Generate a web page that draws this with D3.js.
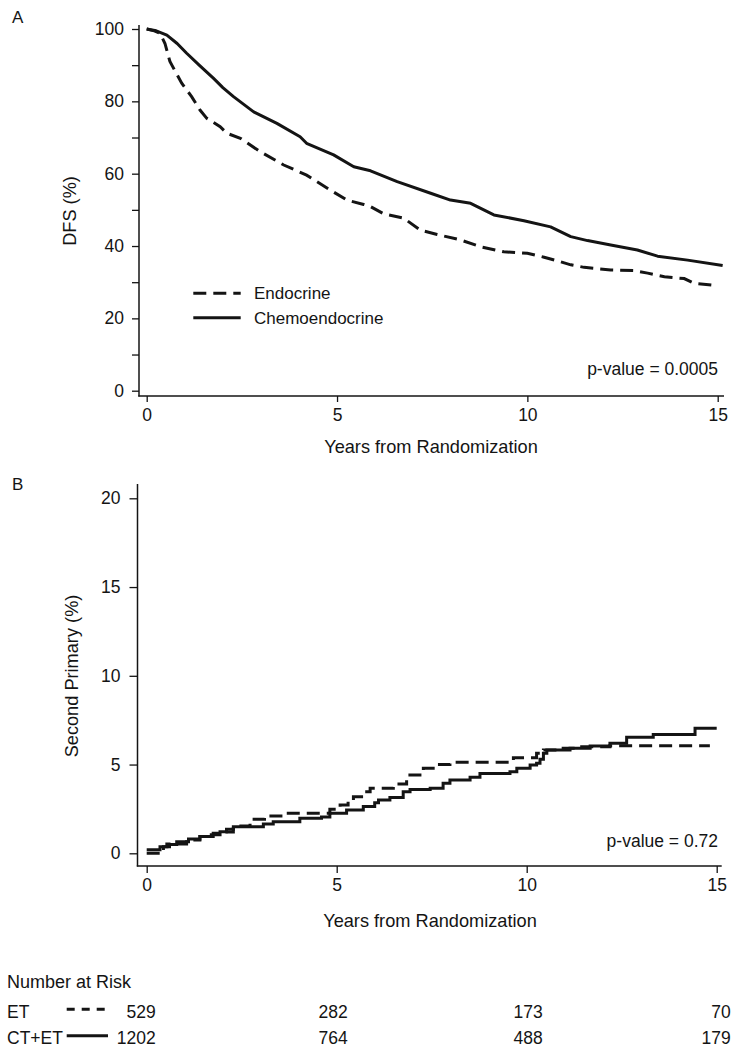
<!DOCTYPE html>
<html>
<head>
<meta charset="utf-8">
<script src="https://cdn.jsdelivr.net/npm/d3@7"></script>
<style>
  html, body { margin: 0; padding: 0; background: #fff; }
  svg { display: block; font-family: "Liberation Sans", Arial, Helvetica, sans-serif; }
</style>
</head>
<body>
<script>
// ---------- DATA ----------
// Panel A: DFS (%)
const dfsEndocrineT = [0,0.2,0.35,0.48,0.61,0.92,1.18,1.4,1.58,1.93,2.1,2.46,2.98,3.6,4.2,4.82,5.26,5.7,5.88,6.23,6.75,7.19,7.63,8.24,8.77,9.38,10.0,10.44,10.79,11.14,11.49,12.19,12.8,13.16,13.6,14.12,14.38,14.95];
const dfsEndocrineV = [100,99.5,98.8,96,91,85,81.3,77.6,75.3,73.0,71.2,69.8,66.1,62.4,59.6,55.5,52.7,51.5,50.9,48.9,47.7,44.4,43.2,41.7,39.8,38.4,38.0,36.9,35.9,34.8,34.1,33.4,33.2,32.5,31.5,31.0,29.7,29.1];
const dfsChemoT = [0,0.25,0.53,0.8,1.05,1.4,1.75,2.0,2.28,2.81,3.42,4.03,4.2,4.91,5.44,5.88,6.58,7.46,7.98,8.51,9.12,9.91,10.61,11.14,11.58,12.19,12.89,13.42,14.21,15.13];
const dfsChemoV = [100,99.5,98.3,96,93.3,89.8,86.4,83.8,81.3,77.1,73.9,70.2,68.4,65.2,61.9,60.8,57.8,54.6,52.7,51.8,48.6,47.0,45.3,42.6,41.5,40.3,38.9,37.2,36.1,34.6];

// Panel B: Second Primary (%) step points
const spEtT = [0,0.44,0.53,1.05,1.4,1.75,2.0,2.28,2.72,3.1,3.68,4.82,5.09,5.3,5.44,5.79,5.88,6.49,6.84,7.28,7.6,7.98,9.65,10.26,10.44,10.96,11.32,12.19,14.82];
const spEtV = [0,0.37,0.52,0.75,0.94,1.13,1.2,1.54,1.92,2.1,2.25,2.48,2.72,2.95,3.19,3.47,3.66,3.9,4.41,4.79,5.0,5.13,5.39,5.63,5.82,5.92,6.0,6.06,6.06];
const spCtEtT = [0,0.35,0.6,0.79,1.1,1.4,1.7,1.93,2.1,2.28,3.07,3.33,4.03,4.6,4.82,5.26,5.7,6.0,6.1,6.4,6.75,6.93,7.46,7.8,7.98,8.51,8.77,9.56,9.74,10.09,10.26,10.35,10.44,10.53,11.14,11.67,12.19,12.63,13.33,14.43,15.0];
const spCtEtV = [0.2,0.37,0.5,0.65,0.8,0.94,1.05,1.22,1.35,1.5,1.65,1.78,1.97,2.05,2.25,2.44,2.63,2.85,3.0,3.15,3.47,3.6,3.66,3.94,4.13,4.28,4.5,4.6,4.79,4.97,5.07,5.3,5.63,5.82,5.92,6.05,6.2,6.54,6.7,7.04,7.04];

// Axes / labels
const xTicks = [0,5,10,15];
const yTicksA = [0,10,20,30,40,50,60,70,80,90,100];
const yLabelsA = [0,20,40,60,80,100];
const yTicksB = [0,5,10,15,20];
const legendLabels = ["Endocrine","Chemoendocrine"];
const riskGroups = ["ET","CT+ET"];
const riskTimes = [0,5,10,15];
const riskET = [529,282,173,70];
const riskCTET = [1202,764,488,179];
const pValueA = "p-value = 0.0005";
const pValueB = "p-value = 0.72";

// ---------- DRAW ----------
const W = 740, H = 1050;
const ink = "#141414";
const svg = d3.select("body").append("svg").attr("width", W).attr("height", H);

const toPts = (T, V) => T.map((t, i) => ({t, v: V[i]}));
const dash = "13,7";

// ----- Panel A -----
const xA = d3.scaleLinear().domain([0,15]).range([146.7,717.7]);
const yA = d3.scaleLinear().domain([0,100]).range([390.7,29]);
const gA = svg.append("g");

gA.append("text").attr("x",12).attr("y",23).attr("font-size",17).attr("fill",ink).text("A");

// axis lines
gA.append("line").attr("x1",139).attr("x2",139).attr("y1",25).attr("y2",396.5).attr("stroke",ink).attr("stroke-width",1.5);
gA.append("line").attr("x1",138.3).attr("x2",724).attr("y1",396).attr("y2",396).attr("stroke",ink).attr("stroke-width",1.5);

const axYA = gA.append("g").attr("transform","translate(139,0)")
  .call(d3.axisLeft(yA).tickValues(yTicksA).tickSize(7).tickSizeOuter(0)
    .tickFormat(d => yLabelsA.includes(d) ? d : ""));
axYA.select(".domain").remove();
axYA.selectAll("line").attr("stroke",ink).attr("stroke-width",1.3);
axYA.selectAll("text").attr("font-size",17.5).attr("fill",ink).attr("font-family",null).attr("x",-15);

const axXA = gA.append("g").attr("transform","translate(0,396)")
  .call(d3.axisBottom(xA).tickValues(xTicks).tickSize(6).tickSizeOuter(0));
axXA.select(".domain").remove();
axXA.selectAll("line").attr("stroke",ink).attr("stroke-width",1.3);
axXA.selectAll("text").attr("font-size",17.5).attr("fill",ink).attr("font-family",null).attr("y",13);

gA.append("text").attr("x",431).attr("y",453).attr("text-anchor","middle").attr("font-size",18.2).attr("fill",ink).text("Years from Randomization");
gA.append("text").attr("transform","translate(76,211) rotate(-90)").attr("text-anchor","middle").attr("font-size",18.2).attr("fill",ink).text("DFS (%)");

const lineA = d3.line().x(d => xA(d.t)).y(d => yA(d.v)).curve(d3.curveLinear);
gA.append("path").datum(toPts(dfsChemoT, dfsChemoV)).attr("d", lineA)
  .attr("fill","none").attr("stroke",ink).attr("stroke-width",3).attr("stroke-linejoin","round");
gA.append("path").datum(toPts(dfsEndocrineT, dfsEndocrineV)).attr("d", lineA)
  .attr("fill","none").attr("stroke",ink).attr("stroke-width",3).attr("stroke-dasharray",dash);

// legend
const legY = [293.3, 317.7];
legendLabels.forEach((lab, i) => {
  gA.append("line").attr("x1",193.3).attr("x2",240.7).attr("y1",legY[i]).attr("y2",legY[i])
    .attr("stroke",ink).attr("stroke-width",3).attr("stroke-dasharray", i === 0 ? dash : null);
  gA.append("text").attr("x",254).attr("y",legY[i]+6).attr("font-size",17).attr("fill",ink).text(lab);
});
gA.append("text").attr("x",718).attr("y",375).attr("text-anchor","end").attr("font-size",17.5).attr("fill",ink).text(pValueA);

// ----- Panel B -----
const xB = d3.scaleLinear().domain([0,15]).range([146.7,716.7]);
const yB = d3.scaleLinear().domain([0,20]).range([853.3,498.3]);
const gB = svg.append("g");

gB.append("text").attr("x",12).attr("y",490).attr("font-size",17).attr("fill",ink).text("B");

gB.append("line").attr("x1",137.5).attr("x2",137.5).attr("y1",484).attr("y2",866.5).attr("stroke",ink).attr("stroke-width",1.5);
gB.append("line").attr("x1",136.8).attr("x2",721.7).attr("y1",866).attr("y2",866).attr("stroke",ink).attr("stroke-width",1.5);

const axYB = gB.append("g").attr("transform","translate(137.5,0)")
  .call(d3.axisLeft(yB).tickValues(yTicksB).tickSize(8).tickSizeOuter(0));
axYB.select(".domain").remove();
axYB.selectAll("line").attr("stroke",ink).attr("stroke-width",1.3);
axYB.selectAll("text").attr("font-size",17.5).attr("fill",ink).attr("font-family",null).attr("x",-17);

const axXB = gB.append("g").attr("transform","translate(0,866)")
  .call(d3.axisBottom(xB).tickValues(xTicks).tickSize(7).tickSizeOuter(0));
axXB.select(".domain").remove();
axXB.selectAll("line").attr("stroke",ink).attr("stroke-width",1.3);
axXB.selectAll("text").attr("font-size",17.5).attr("fill",ink).attr("font-family",null).attr("y",13);

gB.append("text").attr("x",430).attr("y",927).attr("text-anchor","middle").attr("font-size",18.2).attr("fill",ink).text("Years from Randomization");
gB.append("text").attr("transform","translate(78,676) rotate(-90)").attr("text-anchor","middle").attr("font-size",18.2).attr("fill",ink).text("Second Primary (%)");

const lineB = d3.line().x(d => xB(d.t)).y(d => yB(d.v)).curve(d3.curveStepAfter);
gB.append("path").datum(toPts(spCtEtT, spCtEtV)).attr("d", lineB)
  .attr("fill","none").attr("stroke",ink).attr("stroke-width",3);
gB.append("path").datum(toPts(spEtT, spEtV)).attr("d", lineB)
  .attr("fill","none").attr("stroke",ink).attr("stroke-width",3).attr("stroke-dasharray",dash);

gB.append("text").attr("x",718).attr("y",847).attr("text-anchor","end").attr("font-size",17.5).attr("fill",ink).text(pValueB);

// ----- Number at risk -----
const gR = svg.append("g");
gR.append("text").attr("x",7).attr("y",988).attr("font-size",18).attr("fill",ink).text("Number at Risk");
const rowY = [1017.7, 1044.3];
const rowData = [riskET, riskCTET];
const colShift = [9, 11, 16, 14];
riskGroups.forEach((g, i) => {
  gR.append("text").attr("x",7).attr("y",rowY[i]).attr("font-size",17.5).attr("fill",ink).text(g);
  gR.append("line").attr("x1",66.7).attr("x2",108).attr("y1",rowY[i]-8.5).attr("y2",rowY[i]-8.5)
    .attr("stroke",ink).attr("stroke-width",3).attr("stroke-dasharray", i === 0 ? "8,7" : null);
  gR.selectAll(null).data(riskTimes).enter().append("text")
    .attr("x",(t, j) => xB(t) + colShift[j]).attr("y",rowY[i]).attr("text-anchor","end")
    .attr("font-size",17.5).attr("fill",ink).text((t, j) => rowData[i][j]);
});
</script>
</body>
</html>
